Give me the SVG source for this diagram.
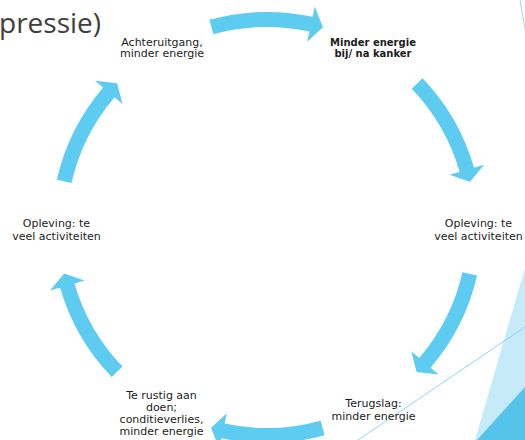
<svg xmlns="http://www.w3.org/2000/svg" xmlns:xlink="http://www.w3.org/1999/xlink" width="525" height="440" viewBox="0 0 525 440">
  <style>
    .lbl { font-family: "DejaVu Sans", sans-serif; font-size: 11px; fill: #1c1c1c; text-anchor: middle; }
    .lbl-b { font-family: "DejaVu Sans", sans-serif; font-size: 10px; font-weight: bold; fill: #1c1c1c; text-anchor: middle; }
    .title { font-family: "Open Sans", sans-serif; font-size: 28px; fill: #404040; }
    .cyc { fill: #5ecbf0; }
  </style>
  <defs>
    <!-- curved cycle arrow, drawn at the top of the ring (centre at origin) -->
    <path id="cycle-arrow" class="cyc"
      d="M -57.59 -207.66 A 215.5 215.5 0 0 1 45.54 -210.64 L 47.76 -220.90 L 55.94 -200.34 L 40.15 -185.71 L 42.37 -195.97 A 200.5 200.5 0 0 0 -53.58 -193.21 Z"/>
  </defs>

  <rect width="525" height="440" fill="#ffffff"/>

  <!-- decorative corner shapes -->
  <g id="decor">
    <line x1="520" y1="0" x2="527" y2="40" stroke="#9adcf3" stroke-width="1"/>
    <polygon points="525,268 475,440 525,440" fill="#c5eaf8"/>
    <polygon points="525,387 477,440 525,440" fill="#56c4ea"/>
    <line x1="525" y1="327" x2="355" y2="442" stroke="#8fd6f0" stroke-width="1"/>
  </g>

  <text class="title" x="-1" y="33">pressie)</text>

  <!-- connectors -->
  <g id="connectors">
    <use xlink:href="#cycle-arrow" href="#cycle-arrow" transform="translate(267 227.5) rotate(0)"/>
    <use xlink:href="#cycle-arrow" href="#cycle-arrow" transform="translate(267 227.5) rotate(61.7)"/>
    <use xlink:href="#cycle-arrow" href="#cycle-arrow" transform="translate(267 227.5) rotate(118.4)"/>
    <use xlink:href="#cycle-arrow" href="#cycle-arrow" transform="translate(267 227.5) rotate(180)"/>
    <use xlink:href="#cycle-arrow" href="#cycle-arrow" transform="translate(267 227.5) rotate(241.6)"/>
    <use xlink:href="#cycle-arrow" href="#cycle-arrow" transform="translate(267 227.5) rotate(298.3)"/>
  </g>

  <g id="node-minder-energie">
    <text class="lbl-b" x="373" y="45.5">Minder energie</text>
    <text class="lbl-b" x="373" y="57">bij/ na kanker</text>
  </g>

  <g id="node-opleving-rechts">
    <text class="lbl" x="478.5" y="227">Opleving: te</text>
    <text class="lbl" x="478.5" y="239.5">veel activiteiten</text>
  </g>

  <g id="node-terugslag">
    <text class="lbl" x="373.5" y="407">Terugslag:</text>
    <text class="lbl" x="373.5" y="419.5">minder energie</text>
  </g>

  <g id="node-te-rustig">
    <text class="lbl" x="161.5" y="398.5">Te rustig aan</text>
    <text class="lbl" x="161.5" y="410.5">doen;</text>
    <text class="lbl" x="161.5" y="422.5">conditieverlies,</text>
    <text class="lbl" x="161.5" y="434.5">minder energie</text>
  </g>

  <g id="node-opleving-links">
    <text class="lbl" x="56.5" y="227">Opleving: te</text>
    <text class="lbl" x="56.5" y="239.5">veel activiteiten</text>
  </g>

  <g id="node-achteruitgang">
    <text class="lbl" x="162" y="45.5">Achteruitgang,</text>
    <text class="lbl" x="162" y="57">minder energie</text>
  </g>
</svg>
